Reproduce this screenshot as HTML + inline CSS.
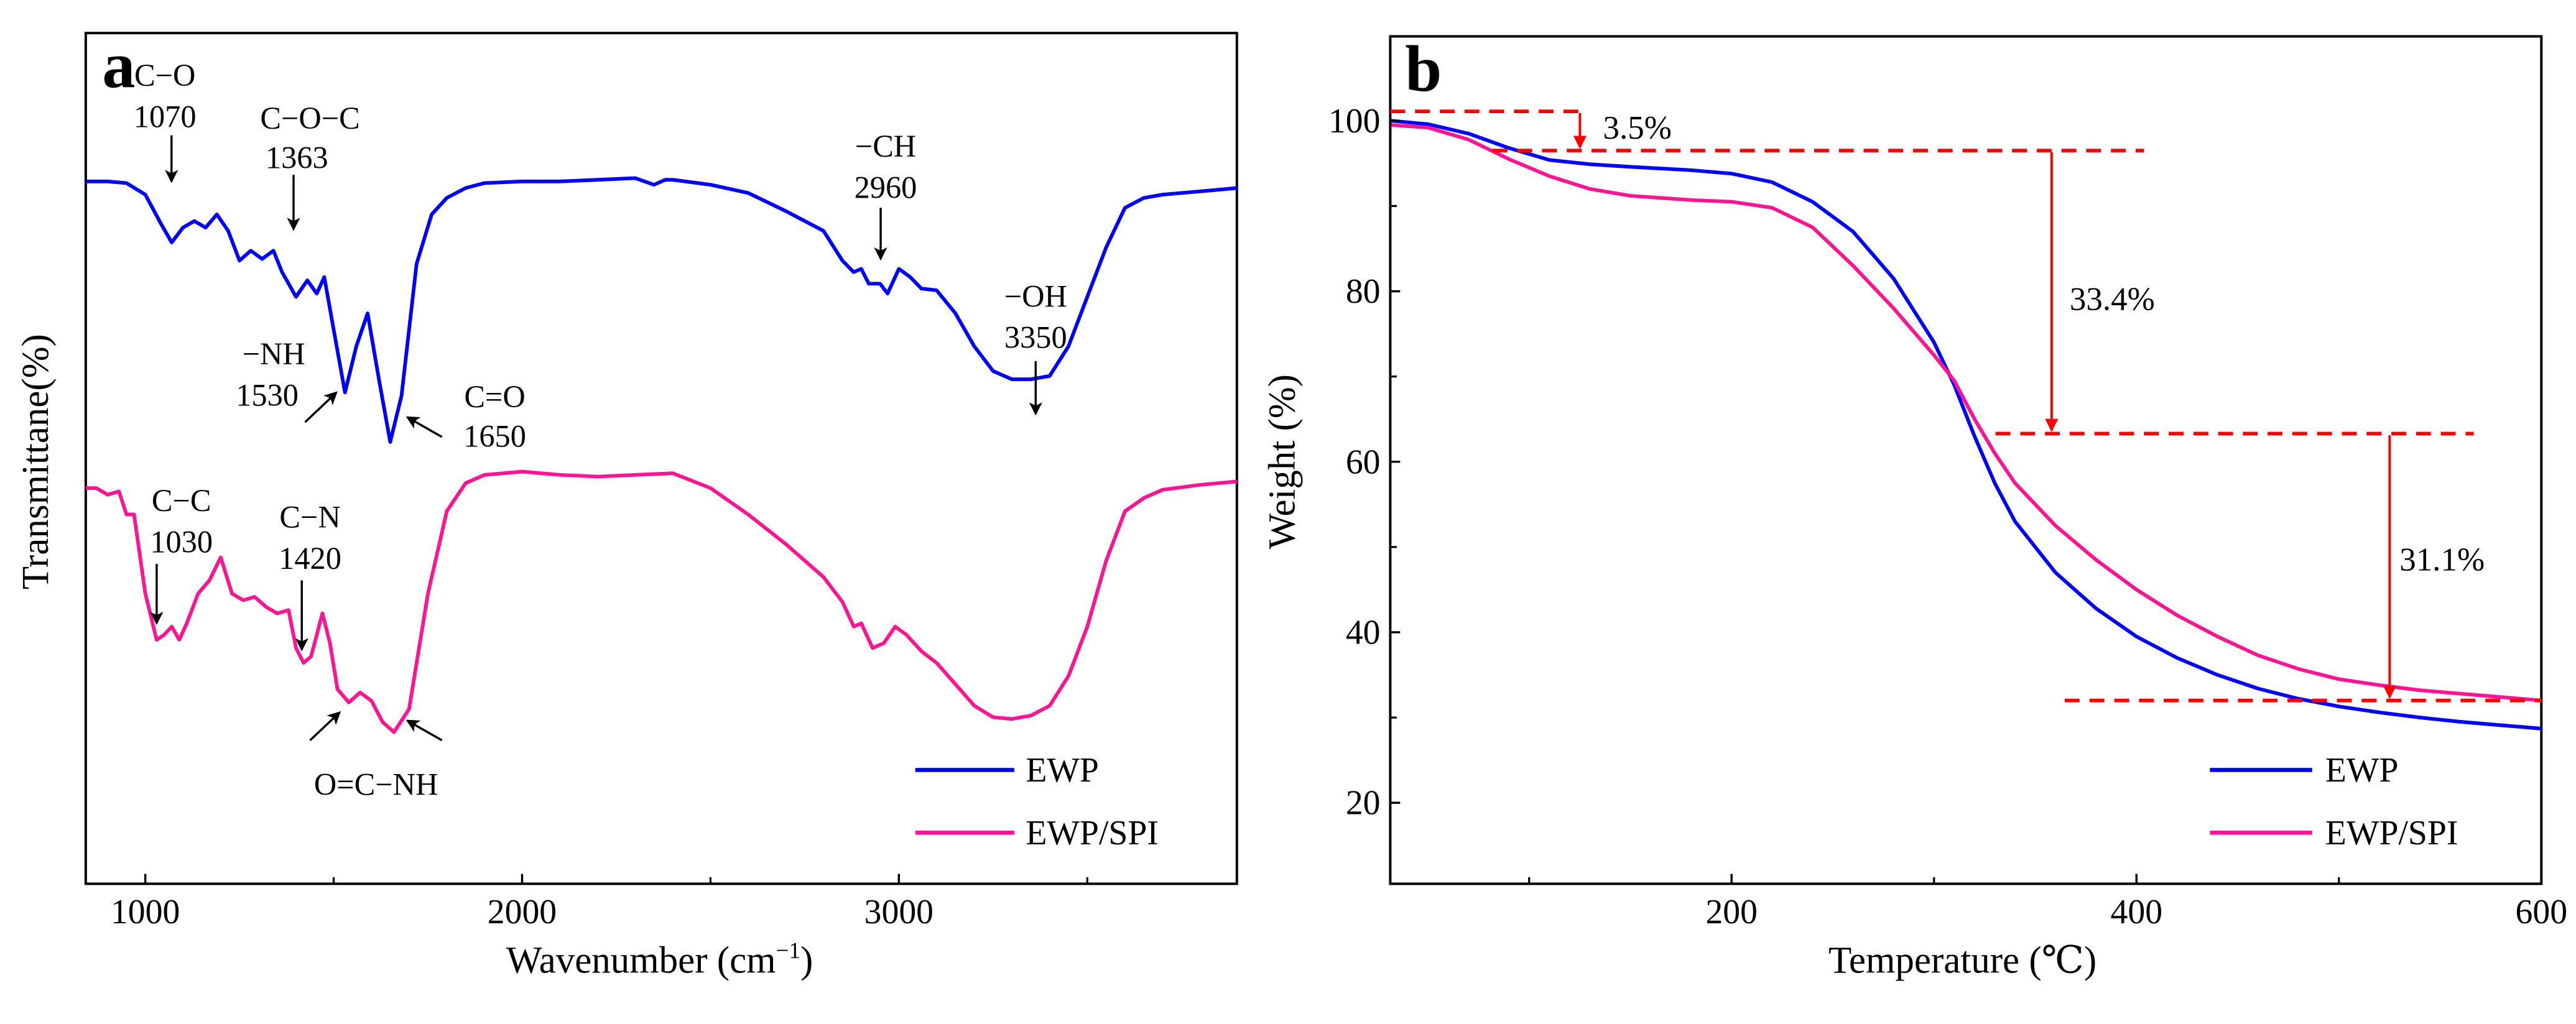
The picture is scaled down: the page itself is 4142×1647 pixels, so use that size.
<!DOCTYPE html>
<html><head><meta charset="utf-8"><style>
html,body{margin:0;padding:0;background:#fff;}
svg{display:block;font-family:"Liberation Serif","DejaVu Serif",serif;}
svg text{font-family:"Liberation Serif","DejaVu Serif",serif;}
</style></head><body>
<svg id="fig" width="4142" height="1647" viewBox="0 0 1562 621" xmlns="http://www.w3.org/2000/svg" font-family="Liberation Serif, serif">
<defs>
<marker id="ak" markerWidth="8" markerHeight="8" refX="7" refY="4" orient="auto" markerUnits="userSpaceOnUse"><path d="M0,0 L8,4 L0,8 L2,4 Z" fill="#000"/></marker>
<marker id="ar" markerWidth="8" markerHeight="10" refX="7" refY="4" orient="auto" markerUnits="userSpaceOnUse"><path d="M0,0 L8,4 L0,8 Z" fill="#f00"/></marker>
</defs>
<g id="pa"></g>
<g id="pb"></g>
</svg>
<script>
// ---------- FTIR data ----------
const ftirWn = [842,900,950,1000,1040,1070,1100,1130,1160,1190,1220,1250,1280,1310,1340,1363,1400,1430,1455,1475,1500,1530,1560,1590,1620,1650,1680,1720,1760,1800,1850,1900,2000,2100,2200,2300,2350,2380,2400,2500,2600,2700,2800,2850,2880,2900,2920,2950,2970,3000,3030,3060,3100,3150,3200,3250,3300,3350,3400,3450,3500,3550,3600,3650,3700,3750,3800,3850,3897];
const ftirEWP = [85.2,85.2,85,83.6,80.2,77.8,79.6,80.4,79.6,81.2,79.2,75.6,76.8,75.8,76.8,74.2,71.2,73.2,71.6,73.6,67.2,59.6,65.2,69.2,61.2,53.6,59.2,75.2,81.2,83.2,84.4,85,85.2,85.2,85.4,85.6,84.8,85.4,85.4,84.8,83.8,81.6,79.2,75.6,74.2,74.6,72.8,72.8,71.6,74.6,73.6,72.2,72,69.2,65.2,62.2,61.2,61.2,61.6,65.2,71.2,77.2,82,83.2,83.6,83.8,84,84.2,84.4];
const ftirWn2 = [842,870,900,930,950,970,1000,1030,1050,1070,1090,1110,1140,1170,1200,1230,1260,1290,1320,1350,1380,1400,1420,1440,1470,1490,1510,1540,1570,1600,1630,1660,1700,1750,1800,1850,1900,2000,2100,2200,2300,2400,2500,2600,2700,2800,2850,2880,2900,2930,2960,2990,3020,3060,3100,3150,3200,3250,3300,3350,3400,3450,3500,3550,3600,3650,3700,3800,3897];
const ftirSPI = [48,48,47.2,47.6,44.8,44.8,35.2,29.6,30.2,31.2,29.6,31.6,35.2,36.8,39.6,35.2,34.4,34.8,33.6,32.8,33.2,28.6,26.8,27.6,32.8,29.2,23.6,22,23.2,22.2,19.6,18.4,21.2,35.2,45.2,48.6,49.6,50,49.6,49.4,49.6,49.8,48,44.8,41.2,37.2,34.2,31.2,31.6,28.6,29.2,31.2,30.2,28.2,26.8,24.2,21.6,20.2,20,20.4,21.6,25.2,31.2,39.2,45.2,46.8,47.8,48.4,48.8];
const ftirTicks = [1000,2000,3000];
// ---------- TGA data ----------
const tgaT = [32,50,70,90,110,130,150,180,200,220,240,260,280,300,310,320,330,340,360,380,400,420,440,460,480,500,520,540,560,580,600];
const tgaEWP = [100,99.6,98.5,96.8,95.4,94.9,94.6,94.2,93.8,92.8,90.5,87,81.5,74,69,63,57.5,53,47,42.8,39.5,37,35,33.4,32.2,31.3,30.6,30,29.5,29.1,28.7];
const tgaSPI = [99.5,99.2,97.8,95.5,93.5,92,91.2,90.7,90.5,89.8,87.5,83,78,72.5,69.5,65,61,57.5,52.5,48.5,45,42,39.5,37.3,35.7,34.5,33.8,33.2,32.8,32.4,32];
const tgaXTicks = [200,400,600];
const tgaYTicks = [20,40,60,80,100];
const stepLevels = [101.1,96.5,63.3,32];
const stepLabels = ['3.5%','33.4%','31.1%'];

const NS='http://www.w3.org/2000/svg';
function mk(parent,tag,attrs,text){const e=document.createElementNS(NS,tag);for(const k in attrs)e.setAttribute(k,attrs[k]);if(tag==='text')e.setAttribute('font-family','Liberation Serif, serif');if(text!==undefined)e.textContent=text;parent.appendChild(e);return e;}
const ax = v => 52 + (v-842)*(698/(3897-842));
const ay = t => 536 - 5*t;
const bx = v => 843 + (v-31.4)*(698/(600-31.4));
const by = w => 536 - (w-10.5)*(514/(109.9-10.5));
const pa=document.getElementById('pa'), pb=document.getElementById('pb');

function path(p,xs,ys,fx,fy,col,name){let d='';xs.forEach((x,i)=>{d+=(i?'L':'M')+fx(x).toFixed(2)+','+fy(ys[i]).toFixed(2);});
 const e=mk(p,'path',{d:d,fill:'none',stroke:col,'stroke-width':2.2,'stroke-linejoin':'round'});
 
 }

// ---- Panel a ----
const fa=mk(pa,'rect',{x:52,y:20,width:698,height:516,fill:'none',stroke:'#000','stroke-width':1.5});


path(pa,ftirWn,ftirEWP,ax,ay,'#0000ff','ftir-ewp-line');
path(pa,ftirWn2,ftirSPI,ax,ay,'#ff1493','ftir-ewp-spi-line');
ftirTicks.forEach(v=>{mk(pa,'line',{x1:ax(v),x2:ax(v),y1:536,y2:530,stroke:'#000','stroke-width':1.3});
 const t=mk(pa,'text',{x:ax(v),y:560,'font-size':21,'text-anchor':'middle'},v);
 
 });
[1500,2500,3500].forEach(v=>mk(pa,'line',{x1:ax(v),x2:ax(v),y1:536,y2:532,stroke:'#000','stroke-width':1.2}));
let t=mk(pa,'text',{x:400,y:590,'font-size':23,'text-anchor':'middle'});
t.innerHTML='Wavenumber (cm<tspan font-size="14" dy="-9">−1</tspan><tspan dy="9">)</tspan>';


t=mk(pa,'text',{x:0,y:0,'font-size':23,'text-anchor':'middle',transform:'translate(29,280) rotate(-90)'},'Transmittane(%)');


t=mk(pa,'text',{x:62,y:53,'font-size':40,'font-weight':'bold'},'a');


const annA=[['C−O',100,52],['1070',100,77],['C−O−C',188,78],['1363',180,102],['−NH',166,221],['1530',162,246],['C=O',300,247],['1650',300,271],['−CH',537,95],['2960',537,120],['−OH',628,186],['3350',628,211],['C−C',110,310],['1030',110,335],['C−N',188,320],['1420',188,345],['O=C−NH',228,482]];
annA.forEach(a=>{const e=mk(pa,'text',{x:a[1],y:a[2],'font-size':19,'text-anchor':'middle'},a[0]);
 
 });
[[104,82,104,110],[178,106,178,139],[185,256,204,238],[268,265,247,253],[534,126,534,157],[628,219,628,251],[95,342,95,378],[183,352,183,394],[188,449,206,432],[268,449,247,437]].forEach(a=>{
 mk(pa,'line',{x1:a[0],y1:a[1],x2:a[2],y2:a[3],stroke:'#000','stroke-width':1.3,'marker-end':'url(#ak)'});});
[['EWP','#0000ff',467],['EWP/SPI','#ff1493',505]].forEach(l=>{
 mk(pa,'line',{x1:555,x2:615,y1:l[2],y2:l[2],stroke:l[1],'stroke-width':2.5});
 const e=mk(pa,'text',{x:622,y:l[2]+7,'font-size':21},l[0]);
 
 });

// ---- Panel b ----
const fb=mk(pb,'rect',{x:843,y:22,width:698,height:514,fill:'none',stroke:'#000','stroke-width':1.5});


path(pb,tgaT,tgaEWP,bx,by,'#0000ff','tga-ewp-line');
path(pb,tgaT,tgaSPI,bx,by,'#ff1493','tga-ewp-spi-line');
tgaXTicks.forEach(v=>{mk(pb,'line',{x1:bx(v),x2:bx(v),y1:536,y2:530,stroke:'#000','stroke-width':1.3});
 const e=mk(pb,'text',{x:bx(v),y:560,'font-size':21,'text-anchor':'middle'},v);
 
 });
[100,300,500].forEach(v=>mk(pb,'line',{x1:bx(v),x2:bx(v),y1:536,y2:532,stroke:'#000','stroke-width':1.2}));
tgaYTicks.forEach(v=>{mk(pb,'line',{x1:843,x2:849,y1:by(v),y2:by(v),stroke:'#000','stroke-width':1.3});
 const e=mk(pb,'text',{x:837,y:by(v)+7,'font-size':21,'text-anchor':'end'},v);
 
 });
[30,50,70,90].forEach(v=>mk(pb,'line',{x1:843,x2:847,y1:by(v),y2:by(v),stroke:'#000','stroke-width':1.2}));
t=mk(pb,'text',{x:1190,y:590,'font-size':23,'text-anchor':'middle'},'Temperature (℃)');


t=mk(pb,'text',{x:0,y:0,'font-size':23,'text-anchor':'middle',transform:'translate(785,280) rotate(-90)'},'Weight (%)');


t=mk(pb,'text',{x:852,y:55,'font-size':40,'font-weight':'bold'},'b');


const dashX=[[843,958],[905,1300],[1210,1500],[1252,1541]];
stepLevels.forEach((w,i)=>{const e=mk(pb,'line',{x1:dashX[i][0],x2:dashX[i][1],y1:by(w),y2:by(w),stroke:'#f00','stroke-width':2.2,'stroke-dasharray':'9,6'});
 
 });
const arrX=[958,1244,1449];
const labPos=[[972,84],[1255,188],[1455,346]];
stepLabels.forEach((s,i)=>{
 mk(pb,'line',{x1:arrX[i],x2:arrX[i],y1:by(stepLevels[i])+1,y2:by(stepLevels[i+1])-2,stroke:'#f00','stroke-width':1.5,'marker-end':'url(#ar)'});
 const e=mk(pb,'text',{x:labPos[i][0],y:labPos[i][1],'font-size':20},s);
 
 });
[['EWP','#0000ff',467],['EWP/SPI','#ff1493',505]].forEach(l=>{
 mk(pb,'line',{x1:1340,x2:1402,y1:l[2],y2:l[2],stroke:l[1],'stroke-width':2.5});
 const e=mk(pb,'text',{x:1410,y:l[2]+7,'font-size':21},l[0]);
 
 });
</script>
</body></html>
